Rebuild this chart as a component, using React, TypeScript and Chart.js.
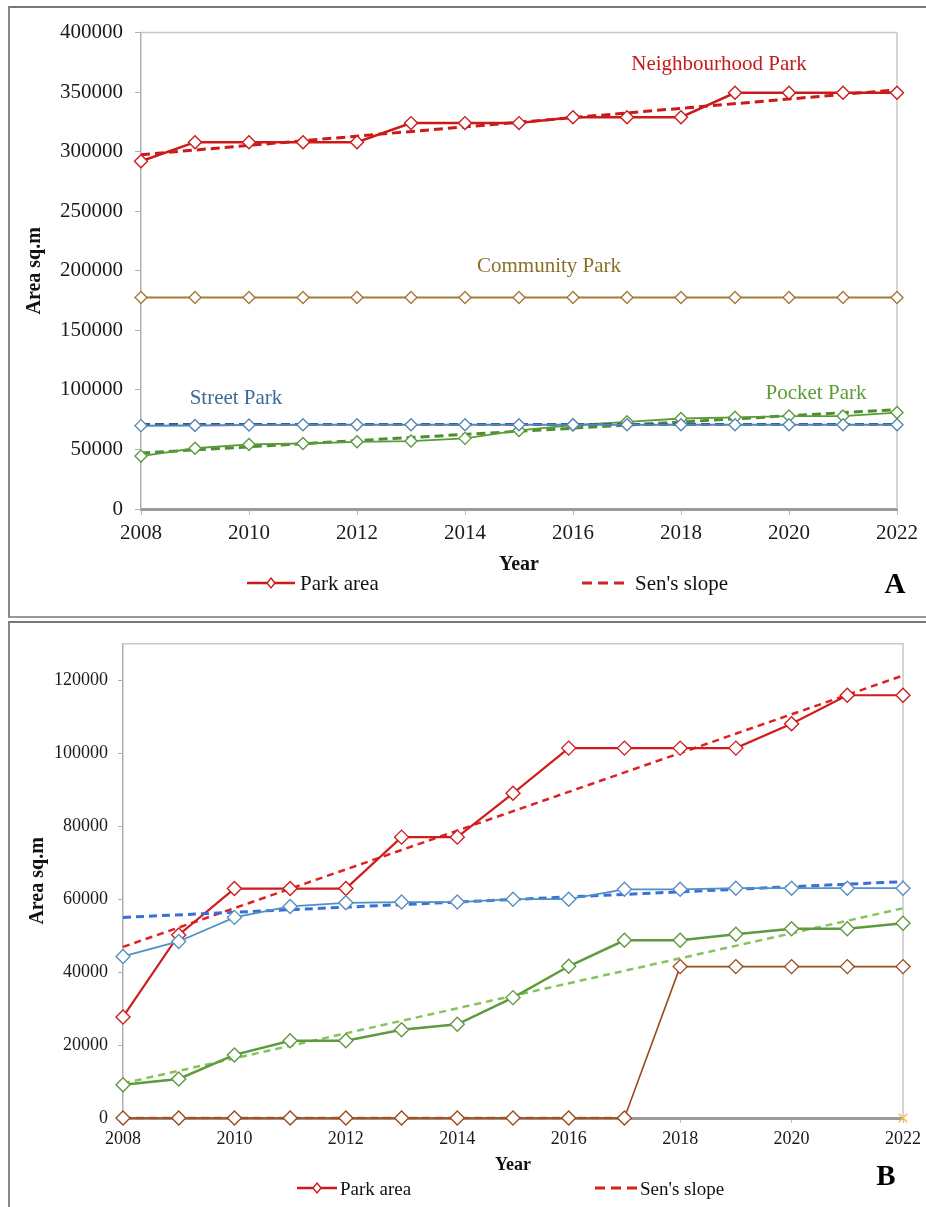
import React, { useEffect, useRef } from 'react';
import { Chart, registerables } from 'chart.js';

Chart.register(...registerables);

// ---------- shared ----------
const years = [2008, 2009, 2010, 2011, 2012, 2013, 2014, 2015, 2016, 2017, 2018, 2019, 2020, 2021, 2022];
const senYears = [2008, 2022];
const xTickLabels = [2008, 2010, 2012, 2014, 2016, 2018, 2020, 2022];

// ---------- Panel A ----------
const neighbourhoodA = [292000, 308000, 308000, 308000, 308000, 324000, 324000, 324000, 329000, 329000, 329000, 349500, 349500, 349500, 349500];
const neighbourhoodSenA = [297500, 352000];
const communityA = [177500, 177500, 177500, 177500, 177500, 177500, 177500, 177500, 177500, 177500, 177500, 177500, 177500, 177500, 177500];
const streetA = [70000, 70200, 70500, 70800, 70800, 70800, 70800, 70800, 70800, 70800, 70800, 70800, 70800, 70800, 70800];
const streetSenA = [71000, 71000];
const pocketA = [44400, 51000, 54200, 55000, 56400, 57000, 59300, 66000, 70500, 73200, 76000, 77000, 78000, 78000, 81000];
const pocketSenA = [47000, 83500];
const yMaxA = 400000;
const yTicksA = [0, 50000, 100000, 150000, 200000, 250000, 300000, 350000, 400000];

// ---------- Panel B ----------
const neighbourhoodB = [27700, 50200, 62900, 62900, 62900, 77000, 77000, 89000, 101400, 101400, 101400, 101400, 108100, 115900, 115900];
const neighbourhoodSenB = [46900, 121300];
const streetB = [44300, 48400, 55000, 58000, 59000, 59200, 59200, 60000, 60000, 62700, 62700, 63000, 63000, 63000, 63000];
const streetSenB = [55000, 64800];
const pocketB = [9100, 10700, 17300, 21200, 21200, 24200, 25700, 33000, 41600, 48700, 48700, 50400, 51900, 51900, 53400];
const pocketSenB = [9500, 57500];
const communityB = [0, 0, 0, 0, 0, 0, 0, 0, 0, 0, 41500, 41500, 41500, 41500, 41500];
const communitySenYearsB = [2008, 2017];
const communitySenB = [0, 0];
const communityEndYearsB = [2022];
const communityEndB = [0];
const yMaxB = 130000;
const yTicksB = [0, 20000, 40000, 60000, 80000, 100000, 120000];

const SERIF = '"Liberation Serif", "Times New Roman", serif';

const xy = (xs: number[], ys: number[]) => xs.map((x, i) => ({ x, y: ys[i] }));

const solid = (data: any, color: string, width: number, radius: number, ptColor?: string) => ({
  data,
  borderColor: color,
  backgroundColor: color,
  borderWidth: width,
  pointStyle: 'rectRot',
  pointRadius: radius,
  pointBackgroundColor: '#ffffff',
  pointBorderColor: ptColor || color,
  pointBorderWidth: 1.4,
  tension: 0,
  clip: false,
});

const dashed = (data: any, color: string, width: number, dash: number[]) => ({
  data,
  borderColor: color,
  backgroundColor: color,
  borderWidth: width,
  borderDash: dash,
  pointRadius: 0,
  tension: 0,
  clip: false,
});

const frame = {
  id: 'frame',
  beforeDatasetsDraw(chart: any) {
    const { ctx, chartArea } = chart;
    const { left, right, top, bottom } = chartArea;
    ctx.save();
    ctx.strokeStyle = '#c8c8c8';
    ctx.lineWidth = 1.5;
    ctx.beginPath();
    ctx.moveTo(left, top);
    ctx.lineTo(right, top);
    ctx.lineTo(right, bottom);
    ctx.stroke();
    ctx.restore();
  },
};

type Cfg = {
  tickSize: number;
  yMax: number;
  yTicks: number[];
  padTop: number;
  padRight: number;
  yWidth: number;
  xHeight: number;
  yTickLen: number;
  yTickPad: number;
  xTickLen: number;
  xTickPad: number;
  yTitlePad: number;
  xTitleSize: number;
  xTitlePad: number;
};

const makeOptions = (c: Cfg): any => ({
  animation: false,
  responsive: false,
  maintainAspectRatio: false,
  layout: { padding: { top: c.padTop, right: c.padRight, bottom: 0, left: 0 } },
  plugins: { legend: { display: false }, tooltip: { enabled: false } },
  scales: {
    x: {
      type: 'linear',
      min: years[0],
      max: years[years.length - 1],
      afterBuildTicks: (s: any) => {
        s.ticks = xTickLabels.map((v) => ({ value: v }));
      },
      ticks: {
        callback: (v: any) => String(v),
        color: '#1a1a1a',
        font: { family: SERIF, size: c.tickSize },
        padding: c.xTickPad,
        maxRotation: 0,
        autoSkip: false,
      },
      grid: { drawOnChartArea: false, drawTicks: true, tickLength: c.xTickLen, color: '#b8b8b8' },
      border: { color: '#9a9a9a', width: 3 },
      title: {
        display: true,
        text: 'Year',
        color: '#111',
        font: { family: SERIF, size: c.xTitleSize, weight: 'bold' },
        padding: { top: 0, bottom: c.xTitlePad },
      },
      afterFit: (s: any) => {
        s.height = c.xHeight;
      },
    },
    y: {
      min: 0,
      max: c.yMax,
      afterBuildTicks: (s: any) => {
        s.ticks = c.yTicks.map((v) => ({ value: v }));
      },
      ticks: {
        callback: (v: any) => String(v),
        color: '#1a1a1a',
        font: { family: SERIF, size: c.tickSize },
        padding: c.yTickPad,
      },
      grid: { drawOnChartArea: false, drawTicks: true, tickLength: c.yTickLen, color: '#b0b0b0' },
      border: { color: '#b0b0b0', width: 1.5 },
      title: {
        display: true,
        text: 'Area sq.m',
        color: '#111',
        font: { family: SERIF, size: 20, weight: 'bold' },
        padding: { top: c.yTitlePad, bottom: 0 },
      },
      afterFit: (s: any) => {
        s.width = c.yWidth;
      },
    },
  },
});

function ChartCanvas({ width, height, datasets, cfg }: { width: number; height: number; datasets: any[]; cfg: Cfg }) {
  const ref = useRef<HTMLCanvasElement | null>(null);
  useEffect(() => {
    if (!ref.current) return;
    const chart = new Chart(ref.current, {
      type: 'line',
      data: { datasets },
      options: makeOptions(cfg),
      plugins: [frame],
    } as any);
    return () => chart.destroy();
  }, []);
  return <canvas ref={ref} width={width} height={height} style={{ width, height, display: 'block' }} />;
}

const datasetsA = [
  solid(xy(years, communityA), '#a27c34', 2, 6),
  solid(xy(years, streetA), '#5585b5', 2, 6),
  dashed(xy(senYears, streetSenA), '#2d5a8c', 3, [9, 5]),
  solid(xy(years, pocketA), '#5a9a3a', 1.8, 6),
  dashed(xy(senYears, pocketSenA), '#4e8e30', 3, [9, 5]),
  solid(xy(years, neighbourhoodA), '#cc1a1a', 2.5, 6.5),
  dashed(xy(senYears, neighbourhoodSenA), '#cc1a1a', 3, [9, 5]),
];

const datasetsB = [
  solid(xy(years, communityB), '#9a4a1e', 1.6, 7),
  dashed(xy(communitySenYearsB, communitySenB), '#c86428', 2.5, [8, 5]),
  {
    data: xy(communityEndYearsB, communityEndB),
    showLine: false,
    pointStyle: 'crossRot',
    pointRadius: 6,
    pointBorderColor: '#f0c040',
    pointBorderWidth: 1.5,
    clip: false,
  },
  solid(xy(years, streetB), '#4c92c3', 1.8, 7, '#5b8fc0'),
  dashed(xy(senYears, streetSenB), '#3a6fd5', 3, [8, 5]),
  solid(xy(years, pocketB), '#5e9a3e', 2.5, 7),
  dashed(xy(senYears, pocketSenB), '#84c45a', 2.5, [7, 5]),
  solid(xy(years, neighbourhoodB), '#d01c1c', 2.2, 7),
  dashed(xy(senYears, neighbourhoodSenB), '#e02020', 2.5, [7, 5]),
];

const cfgA: Cfg = {
  tickSize: 21, yMax: yMaxA, yTicks: yTicksA, padTop: 24, padRight: 29, yWidth: 131, xHeight: 107,
  yTickLen: 6, yTickPad: 12, xTickLen: 6, xTickPad: 6, yTitlePad: 13, xTitleSize: 20, xTitlePad: 39,
};
const cfgB: Cfg = {
  tickSize: 18, yMax: yMaxB, yTicks: yTicksB, padTop: 17, padRight: 23, yWidth: 113, xHeight: 89,
  yTickLen: 5, yTickPad: 10, xTickLen: 5, xTickPad: 5, yTitlePad: 16, xTitleSize: 18, xTitlePad: 31,
};

// positions are given in page pixels (body margin removed)
const abs = (left: number, top: number, extra: any = {}): any => ({
  position: 'absolute',
  left,
  top,
  ...extra,
});

function Label({ cx, cy, text, color, size, bold }: { cx: number; cy: number; text: string; color: string; size: number; bold?: boolean }) {
  return (
    <div
      style={abs(cx, cy, {
        transform: 'translate(-50%, -50%)',
        color,
        fontSize: size,
        fontFamily: SERIF,
        fontWeight: bold ? 'bold' : 'normal',
        lineHeight: 1,
        whiteSpace: 'nowrap',
      })}
    >
      {text}
    </div>
  );
}

function LegendRow({ y, x1, w1, t1, x2, w2, t2, size, dia }: any) {
  const h = 16;
  const mid = h / 2;
  return (
    <>
      <svg style={abs(x1, y - mid)} width={w1} height={h}>
        <line x1={0} y1={mid} x2={w1} y2={mid} stroke="#cc1a1a" strokeWidth={2.5} />
        <polygon
          points={`${w1 / 2},${mid - dia} ${w1 / 2 + dia * 0.8},${mid} ${w1 / 2},${mid + dia} ${w1 / 2 - dia * 0.8},${mid}`}
          fill="#fff"
          stroke="#cc1a1a"
          strokeWidth={1.4}
        />
      </svg>
      <div style={abs(t1, y, { transform: 'translateY(-50%)', fontFamily: SERIF, fontSize: size, lineHeight: 1, whiteSpace: 'nowrap', color: '#111' })}>
        Park area
      </div>
      <svg style={abs(x2, y - mid)} width={w2} height={h}>
        <line x1={0} y1={mid} x2={w2} y2={mid} stroke="#d42020" strokeWidth={3} strokeDasharray="10 6" />
      </svg>
      <div style={abs(t2, y, { transform: 'translateY(-50%)', fontFamily: SERIF, fontSize: size, lineHeight: 1, whiteSpace: 'nowrap', color: '#111' })}>
        Sen's slope
      </div>
    </>
  );
}

export default function App() {
  return (
    <div style={{ position: 'relative', width: 926, height: 1207, overflow: 'hidden', background: '#fff' }}>
      <style>{'html,body{margin:0;padding:0;overflow:hidden;}'}</style>
      {/* Panel A frame */}
      <div
        style={abs(8, 6, {
          width: 918,
          height: 612,
          boxSizing: 'border-box',
          borderTop: '2px solid #777',
          borderLeft: '2px solid #888',
          borderBottom: '2px solid #999',
        })}
      />
      {/* Panel B frame */}
      <div
        style={abs(8, 621, {
          width: 918,
          height: 586,
          boxSizing: 'border-box',
          borderTop: '2px solid #777',
          borderLeft: '2px solid #888',
        })}
      />
      <div style={abs(10, 8)}>
        <ChartCanvas width={916} height={608} datasets={datasetsA} cfg={cfgA} />
      </div>
      <div style={abs(10, 623)}>
        <ChartCanvas width={916} height={584} datasets={datasetsB} cfg={cfgB} />
      </div>

      <Label cx={719} cy={63} text="Neighbourhood Park" color="#c41a1a" size={21} />
      <Label cx={549} cy={265} text="Community Park" color="#8b6f2a" size={21} />
      <Label cx={236} cy={397} text="Street Park" color="#3e6a98" size={21} />
      <Label cx={816} cy={392} text="Pocket Park" color="#5e9a36" size={21} />

      <LegendRow y={583} x1={247} w1={48} t1={300} x2={582} w2={48} t2={635} size={21} dia={5} />
      <LegendRow y={1188} x1={297} w1={40} t1={340} x2={595} w2={42} t2={640} size={19} dia={5} />

      <Label cx={895} cy={583} text="A" color="#000" size={29} bold />
      <Label cx={886} cy={1175} text="B" color="#000" size={29} bold />
    </div>
  );
}
